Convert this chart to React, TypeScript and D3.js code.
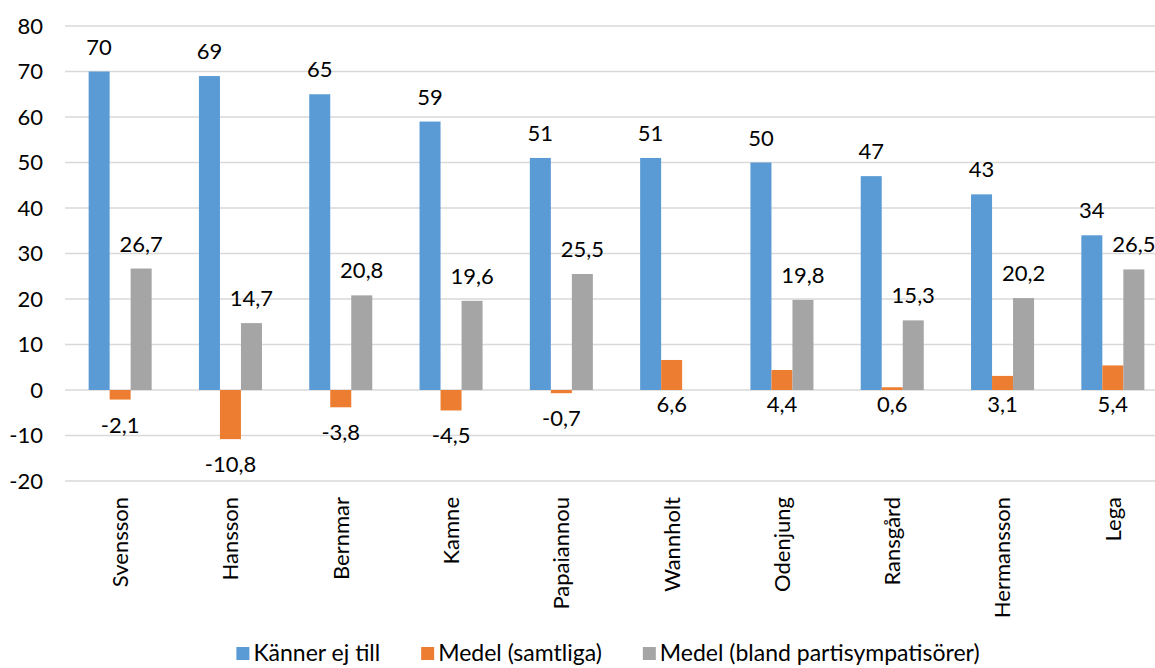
import React, { useEffect, useRef } from "react";
import * as d3 from "d3";

const categories = ["Svensson", "Hansson", "Bernmar", "Kamne", "Papaiannou", "Wannholt", "Odenjung", "Ransgård", "Hermansson", "Lega"];
const kannerEjTill = [70, 69, 65, 59, 51, 51, 50, 47, 43, 34];
const medelSamtliga = [-2.1, -10.8, -3.8, -4.5, -0.7, 6.6, 4.4, 0.6, 3.1, 5.4];
const medelSympatisorer: (number | null)[] = [26.7, 14.7, 20.8, 19.6, 25.5, null, 19.8, 15.3, 20.2, 26.5];
const seriesNames = ["Känner ej till", "Medel (samtliga)", "Medel (bland partisympatisörer)"];
const seriesColors = ["#5B9BD5", "#ED7D31", "#A5A5A5"];
const yTicks = [-20, -10, 0, 10, 20, 30, 40, 50, 60, 70, 80];

const W = 1155;
const H = 668;
const FONT = "Lato, 'Noto Sans', sans-serif";
const FS = 22;
const LFS = 23;

const fmt = (v: number) => String(v).replace(".", ",");

export default function App() {
  const ref = useRef<SVGSVGElement | null>(null);

  useEffect(() => {
    const svg = d3.select(ref.current);
    svg.selectAll("*").remove();

    const y = d3.scaleLinear().domain([-20, 80]).range([481, 26]);
    const x0 = d3.scaleBand<string>().domain(categories).range([65, 1168]).paddingInner(0).paddingOuter(0);
    const x1 = d3.scaleBand<number>().domain([0, 1, 2]).range([0, x0.bandwidth()]).paddingInner(0).paddingOuter(1.125);

    // gridlines
    svg.append("g")
      .selectAll("line")
      .data(yTicks)
      .join("line")
      .attr("x1", 65)
      .attr("x2", 1168)
      .attr("y1", (d) => y(d))
      .attr("y2", (d) => y(d))
      .attr("stroke", "#D9D9D9")
      .attr("stroke-width", 1.5);

    // y tick labels
    svg.append("g")
      .selectAll("text")
      .data(yTicks)
      .join("text")
      .attr("x", 43)
      .attr("y", (d) => y(d))
      .attr("dy", "0.36em")
      .attr("text-anchor", "end")
      .attr("font-family", FONT)
      .attr("font-size", FS)
      .attr("fill", "#000")
      .text((d) => String(d));

    const allSeries = [kannerEjTill, medelSamtliga, medelSympatisorer];

    allSeries.forEach((vals, si) => {
      const g = svg.append("g");
      const data = categories
        .map((c, i) => ({ c, v: vals[i] }))
        .filter((d) => d.v !== null && d.v !== undefined) as { c: string; v: number }[];
      g.selectAll("rect")
        .data(data)
        .join("rect")
        .attr("x", (d) => (x0(d.c) as number) + (x1(si) as number))
        .attr("width", x1.bandwidth())
        .attr("y", (d) => Math.min(y(d.v), y(0)))
        .attr("height", (d) => Math.abs(y(d.v) - y(0)))
        .attr("fill", seriesColors[si]);

      g.selectAll("text")
        .data(data)
        .join("text")
        .attr("x", (d) => (x0(d.c) as number) + (x1(si) as number) + x1.bandwidth() / 2)
        .attr("y", (d) => {
          if (si === 1) {
            return d.v < 0 ? y(d.v) + 33 : y(0) + 22;
          }
          return y(d.v) - 17;
        })
        .attr("text-anchor", "middle")
        .attr("font-family", FONT)
        .attr("font-size", FS)
        .attr("fill", "#000")
        .text((d) => fmt(d.v));
    });

    // category labels
    svg.append("g")
      .selectAll("text")
      .data(categories)
      .join("text")
      .attr("transform", (d) => `translate(${(x0(d) as number) + x0.bandwidth() / 2},497) rotate(-90)`)
      .attr("text-anchor", "end")
      .attr("dy", "0.36em")
      .attr("font-family", FONT)
      .attr("font-size", FS)
      .attr("fill", "#000")
      .text((d) => d);

    // legend
    const lg = svg.append("g");
    const items = seriesNames.map((name, i) => {
      const it = lg.append("g");
      it.append("rect").attr("x", 0).attr("y", -6).attr("width", 13).attr("height", 13).attr("fill", seriesColors[i]);
      const t = it.append("text")
        .attr("x", 17)
        .attr("y", 0)
        .attr("dy", "0.36em")
        .attr("font-family", FONT)
        .attr("font-size", LFS)
        .attr("fill", "#000")
        .text(name);
      const w = 17 + ((t.node() as SVGTextElement).getComputedTextLength() || name.length * 10);
      return { it, w };
    });
    const gap = 41;
    const total = items.reduce((s, d) => s + d.w, 0) + gap * (items.length - 1);
    let cx = 608 - total / 2;
    items.forEach((d) => {
      d.it.attr("transform", `translate(${cx},653)`);
      cx += d.w + gap;
    });
  }, []);

  return (
    <svg
      ref={ref}
      width={W}
      height={H}
      viewBox={`0 0 ${W} ${H}`}
      style={{ position: "absolute", left: 0, top: 0, background: "#fff" }}
    />
  );
}
